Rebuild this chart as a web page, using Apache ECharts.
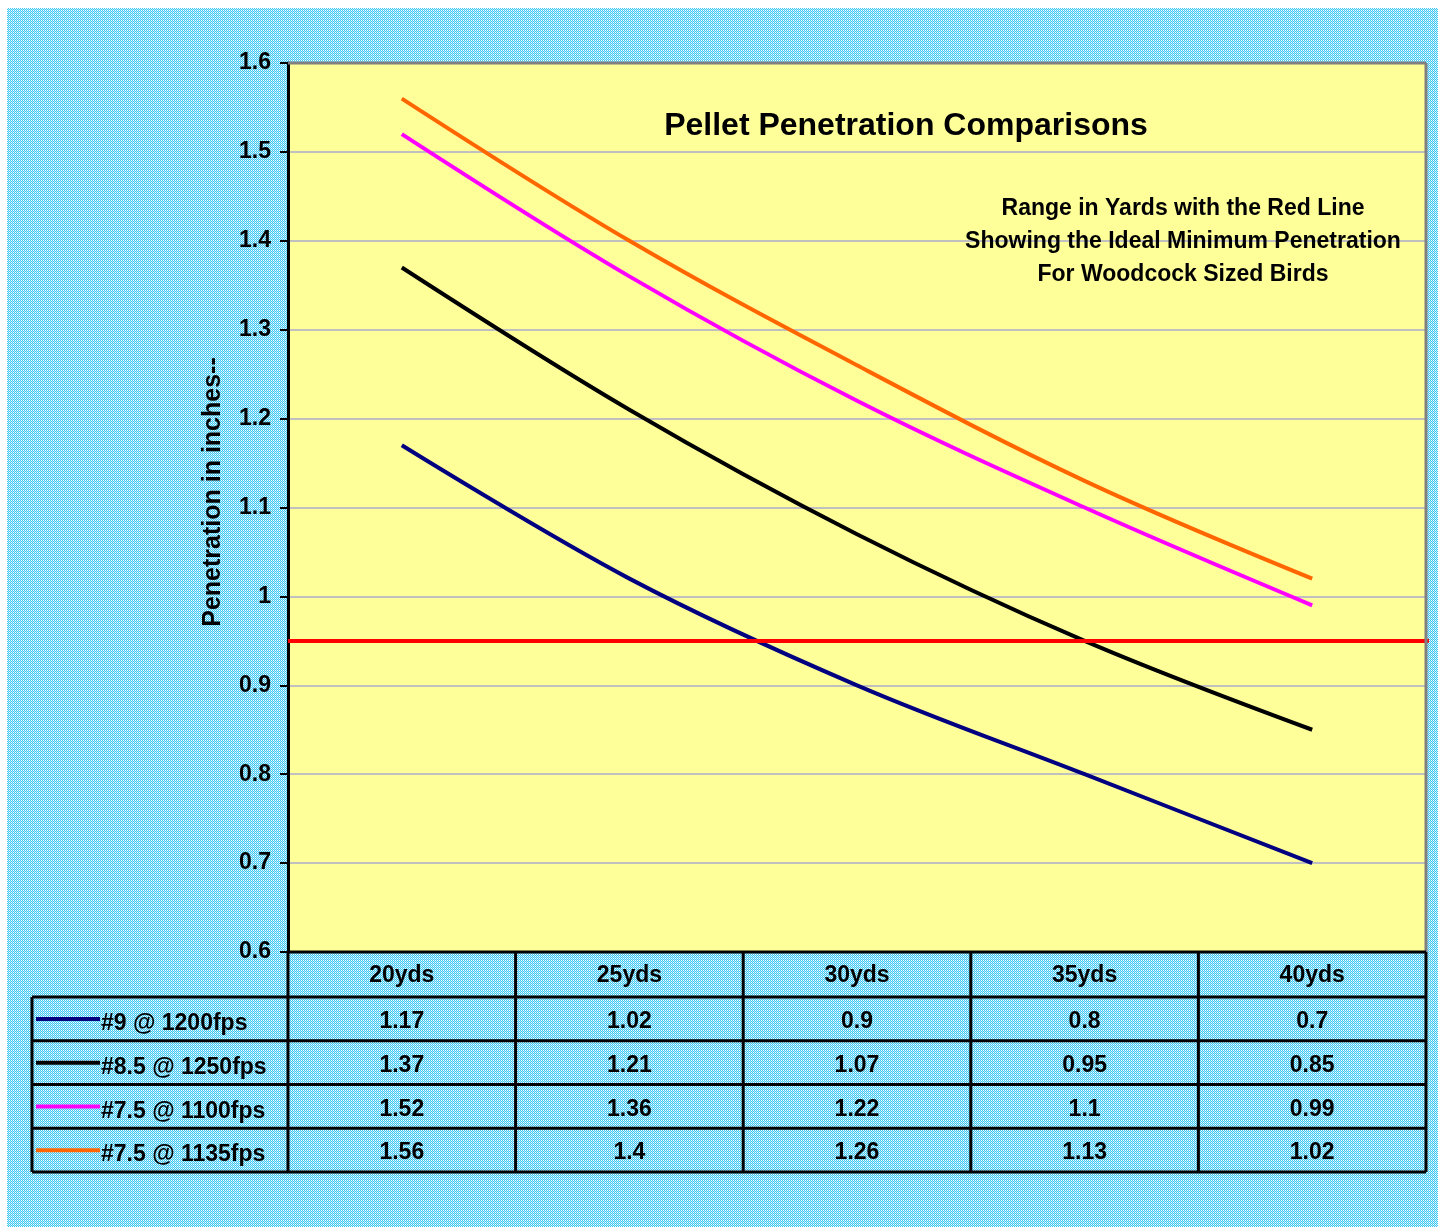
<!DOCTYPE html>
<html>
<head>
<meta charset="utf-8">
<script src="https://cdn.jsdelivr.net/npm/echarts@6/dist/echarts.min.js"></script>
<style>
  html, body { margin: 0; padding: 0; background: #ffffff; }
  #chart { position: absolute; left: 7px; top: 8px; width: 1431px; height: 1219px; }
</style>
</head>
<body>
<div id="chart"></div>
<script>
// Range categories and penetration depths (inches)
const categories = ['20yds', '25yds', '30yds', '35yds', '40yds'];
const seriesNames = ['#9 @ 1200fps', '#8.5 @ 1250fps', '#7.5 @ 1100fps', '#7.5 @ 1135fps'];
const seriesColors = ['#000080', '#000000', '#ff00ff', '#ff6600'];
const shot9_1200 = [1.17, 1.02, 0.9, 0.8, 0.7];
const shot85_1250 = [1.37, 1.21, 1.07, 0.95, 0.85];
const shot75_1100 = [1.52, 1.36, 1.22, 1.1, 0.99];
const shot75_1135 = [1.56, 1.4, 1.26, 1.13, 1.02];
const seriesValues = [shot9_1200, shot85_1250, shot75_1100, shot75_1135];
const idealMinimum = 0.95;
const yMin = 0.6, yMax = 1.6, yStep = 0.1;

const FONT = '"Liberation Sans", Arial, sans-serif';

// dithered light-blue fill
function ditherPattern() {
  const c = document.createElement('canvas');
  c.width = 2; c.height = 2;
  const g = c.getContext('2d');
  g.fillStyle = '#3cc6f2'; g.fillRect(0, 0, 2, 2);
  g.fillStyle = '#ffffff'; g.fillRect(0, 0, 1, 1);
  g.fillStyle = '#b4ecff'; g.fillRect(1, 1, 1, 1);
  return c;
}

const chart = echarts.init(document.getElementById('chart'), null, { renderer: 'canvas' });

const grid = { left: 281, right: 12, top: 55, bottom: 275 };

const option = {
  backgroundColor: { image: ditherPattern(), repeat: 'repeat' },
  animation: false,
  grid: {
    left: grid.left, right: grid.right, top: grid.top, bottom: grid.bottom,
    show: true, backgroundColor: '#ffff99', borderWidth: 0
  },
  xAxis: {
    type: 'category',
    data: categories,
    boundaryGap: true,
    axisLine: { show: false },
    axisTick: { show: false },
    axisLabel: { show: false },
    splitLine: { show: false }
  },
  yAxis: {
    type: 'value',
    min: yMin, max: yMax, interval: yStep,
    axisLine: { show: true, lineStyle: { color: '#000', width: 3 } },
    axisTick: { show: true, inside: false, length: 8, lineStyle: { color: '#000', width: 2 } },
    axisLabel: {
      fontFamily: FONT, fontWeight: 'bold', fontSize: 23, color: '#000', margin: 17,
      formatter: v => String(Math.round(v * 10) / 10)
    },
    splitLine: { show: true, lineStyle: { color: '#c0c0c0', width: 2 } }
  },
  title: [
    {
      text: 'Pellet Penetration Comparisons',
      left: 894, top: 97, textAlign: 'center',
      textStyle: { fontFamily: FONT, fontWeight: 'bold', fontSize: 32, color: '#000' }
    },
    {
      text: 'Range in Yards with the Red Line\nShowing the Ideal Minimum Penetration\nFor Woodcock Sized Birds',
      left: 1171, top: 179, textAlign: 'center',
      textStyle: { fontFamily: FONT, fontWeight: 'bold', fontSize: 23, color: '#000', lineHeight: 33, align: 'center' }
    }
  ],
  series: seriesValues.map((vals, i) => ({
    name: seriesNames[i],
    type: 'line',
    data: vals,
    smooth: 0.35,
    symbol: 'none',
    lineStyle: { color: seriesColors[i], width: 4 },
    z: 3 + i,
    markLine: i === 0 ? {
      silent: true,
      symbol: 'none',
      label: { show: false },
      lineStyle: { color: '#ff0000', width: 4, type: 'solid' },
      data: [{ yAxis: idealMinimum }]
    } : undefined
  }))
};

chart.setOption(option);

// axis title, data table and plot frame
function buildExtras() {
  const W = chart.getWidth(), H = chart.getHeight();
  const plotLeft = grid.left, plotRight = W - grid.right;
  const plotBottom = H - grid.bottom;
  const colW = (plotRight - plotLeft) / categories.length;
  const headerH = 45;
  const rowH = 43.75;
  const tableLeft = 25;
  const rowsTop = plotBottom + headerH;
  const rowsBottom = rowsTop + rowH * seriesValues.length;
  const els = [];
  const line = (x1, y1, x2, y2, w, color) => els.push({
    type: 'line', silent: true, z: 100,
    shape: { x1, y1, x2, y2 }, style: { stroke: color || '#000', lineWidth: w || 3 }
  });
  const text = (x, y, s, align) => els.push({
    type: 'text', silent: true, z: 101, x, y,
    style: { text: s, fontFamily: FONT, fontWeight: 'bold', fontSize: 23, fill: '#000',
             align: align || 'center', verticalAlign: 'middle' }
  });

  // y axis title
  els.push({
    type: 'text', silent: true, z: 101, x: 206, y: 484, rotation: Math.PI / 2,
    style: { text: 'Penetration in inches--', fontFamily: FONT, fontWeight: 'bold', fontSize: 25,
             fill: '#000', align: 'center', verticalAlign: 'middle' }
  });

  // red reference line runs out to the frame edge
  const yRed = chart.convertToPixel({ yAxisIndex: 0 }, idealMinimum);
  line(plotRight - 2, yRed, plotRight + 3, yRed, 4, '#ff0000');

  // plot frame: grey top and right edges
  line(plotLeft, grid.top, plotRight, grid.top, 3, '#808080');
  line(plotRight, grid.top, plotRight, plotBottom, 3, '#808080');

  // header row
  line(plotLeft, plotBottom, plotRight, plotBottom);
  categories.forEach((c) => {
    const cx = chart.convertToPixel({ xAxisIndex: 0 }, c);
    text(cx, plotBottom + headerH / 2 + 1, c);
  });
  // horizontal rules
  for (let r = 0; r <= seriesValues.length; r++) {
    const y = rowsTop + r * rowH;
    line(tableLeft, y, plotRight, y);
  }
  // vertical rules
  line(tableLeft, rowsTop, tableLeft, rowsBottom);
  for (let j = 0; j <= categories.length; j++) {
    const x = plotLeft + j * colW;
    line(x, plotBottom, x, rowsBottom);
  }
  // rows: legend key + values
  seriesValues.forEach((vals, r) => {
    const cy = rowsTop + r * rowH + rowH / 2;
    els.push({
      type: 'line', silent: true, z: 101,
      shape: { x1: tableLeft + 4, y1: cy, x2: tableLeft + 68, y2: cy },
      style: { stroke: seriesColors[r], lineWidth: 4 }
    });
    text(tableLeft + 69, cy + 5, seriesNames[r], 'left');
    vals.forEach((v, j) => {
      const cx = chart.convertToPixel({ xAxisIndex: 0 }, categories[j]);
      text(cx, cy + 3, String(v));
    });
  });
  chart.setOption({ graphic: { elements: els } });
}
buildExtras();
</script>
</body>
</html>
